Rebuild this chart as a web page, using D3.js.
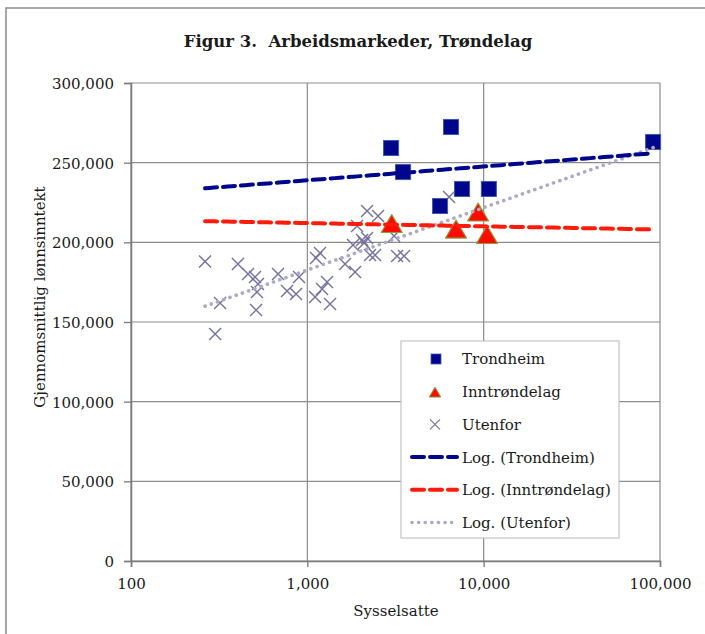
<!DOCTYPE html>
<html>
<head>
<meta charset="utf-8">
<script src="https://cdn.jsdelivr.net/npm/d3@7"></script>
<style>
  html, body { margin: 0; padding: 0; background: #fff; }
  svg { display: block; }
  text { font-family: "DejaVu Serif", serif; fill: #1a1a1a; }
</style>
</head>
<body>
<svg id="chart" width="705" height="634"></svg>
<script>
// Employment (sysselsatte) and average wage income per labour market
const trondheimX = [2985, 3490, 6530, 5660, 7540, 10700, 91400];
const trondheimY = [259200, 244100, 272400, 222800, 233500, 233500, 263000];

const inntrondelagX = [3010, 6970, 9300, 10450];
const inntrondelagY = [211200, 207700, 218400, 204300];

const utenforX = [263, 300, 320, 404, 461, 505, 525, 518, 512, 682, 767, 863, 897,
                  1106, 1120, 1180, 1293, 1212, 1345, 1636, 1865, 1816, 1914, 2181,
                  2518, 2043, 2181, 2268, 2421, 3103, 3227, 3536, 6365, 2097];
const utenforY = [188000, 142500, 161900, 186400, 180100, 178200, 173800, 168800, 157500,
                  180100, 169500, 167600, 178200, 165700, 190200, 193300, 175100, 170700,
                  161300, 186400, 181400, 198300, 210200, 219700, 216500, 201500, 202700,
                  192000, 192000, 204000, 191400, 191400, 228400, 199600];

const xTicks = [100, 1000, 10000, 100000];
const yTicks = [0, 50000, 100000, 150000, 200000, 250000, 300000];

const titleText = "Figur 3.  Arbeidsmarkeder, Trøndelag";
const xTitle = "Sysselsatte";
const yTitle = "Gjennomsnittlig lønnsinntekt";
const legendLabels = ["Trondheim", "Inntrøndelag", "Utenfor",
                      "Log. (Trondheim)", "Log. (Inntrøndelag)", "Log. (Utenfor)"];

const svg = d3.select("#chart");
const W = 705, H = 634;
const plot = { left: 131, right: 660, top: 83, bottom: 561 };

// outer frame
svg.append("rect").attr("x", 6).attr("y", 8).attr("width", W + 10).attr("height", H + 10)
  .attr("fill", "#fff").attr("stroke", "#8a8a8a").attr("stroke-width", 1.5);

const x = d3.scaleLog().domain([100, 100000]).range([plot.left, plot.right]);
const y = d3.scaleLinear().domain([0, 300000]).range([plot.bottom, plot.top]);

const fmt = d3.format(",");

// grid
const grid = svg.append("g");
grid.selectAll("line.h").data(yTicks).join("line")
  .attr("x1", plot.left).attr("x2", plot.right)
  .attr("y1", d => y(d)).attr("y2", d => y(d))
  .attr("stroke", "#8c8c8c").attr("stroke-width", 1.2);
grid.selectAll("line.v").data(xTicks).join("line")
  .attr("x1", d => x(d)).attr("x2", d => x(d))
  .attr("y1", plot.top).attr("y2", plot.bottom)
  .attr("stroke", "#8c8c8c").attr("stroke-width", 1.2);

// axes
const yAxis = d3.axisLeft(y).tickValues(yTicks).tickFormat(fmt).tickSize(7).tickPadding(10);
const xAxis = d3.axisBottom(x).tickValues(xTicks).tickFormat(fmt).tickSize(6).tickPadding(8);

const gy = svg.append("g").attr("transform", `translate(${plot.left},0)`).call(yAxis);
const gx = svg.append("g").attr("transform", `translate(0,${plot.bottom})`).call(xAxis);
[gx, gy].forEach(g => {
  g.select(".domain").attr("stroke", "#7a7a7a").attr("stroke-width", 1.5);
  g.selectAll(".tick line").attr("stroke", "#7a7a7a").attr("stroke-width", 1.3);
  g.selectAll(".tick text").attr("font-family", "DejaVu Serif").attr("font-size", 15).attr("fill", "#1a1a1a");
});
gy.selectAll(".tick text").attr("dy", "0.36em");
gx.selectAll(".tick text").attr("dy", "0.9em");

// titles
svg.append("text").attr("x", 358).attr("y", 47).attr("text-anchor", "middle")
  .attr("xml:space", "preserve").style("white-space", "pre")
  .attr("font-family", "DejaVu Serif Condensed").attr("font-weight", "bold").attr("font-size", 16.5)
  .text(titleText);
svg.append("text").attr("x", 396).attr("y", 616).attr("text-anchor", "middle")
  .attr("font-size", 15).text(xTitle);
svg.append("text").attr("transform", "translate(45,297) rotate(-90)").attr("text-anchor", "middle")
  .attr("font-size", 15).text(yTitle);

// markers
const marks = svg.append("g");
const crossPath = s => `M${-s},${-s}L${s},${s}M${-s},${s}L${s},${-s}`;
const triPath = s => `M0,${-s}L${s * 1.05},${s * 0.8}L${-s * 1.05},${s * 0.8}Z`;

marks.selectAll("path.ut").data(d3.zip(utenforX, utenforY)).join("path")
  .attr("transform", d => `translate(${x(d[0])},${y(d[1])})`)
  .attr("d", crossPath(6)).attr("fill", "none")
  .attr("stroke", "#7470a2").attr("stroke-width", 1.4);

marks.selectAll("rect.tr").data(d3.zip(trondheimX, trondheimY)).join("rect")
  .attr("x", d => x(d[0]) - 7.5).attr("y", d => y(d[1]) - 7.5)
  .attr("width", 15).attr("height", 15)
  .attr("fill", "#00068c").attr("stroke", "#3a5aa8").attr("stroke-width", 1);

marks.selectAll("path.in").data(d3.zip(inntrondelagX, inntrondelagY)).join("path")
  .attr("transform", d => `translate(${x(d[0])},${y(d[1])})`)
  .attr("d", triPath(10)).attr("fill", "#ff0a00")
  .attr("stroke", "#8aa040").attr("stroke-width", 1.2).attr("stroke-linejoin", "round");

// logarithmic trendlines: y = a + b ln(x), fitted per series
function logFit(xs, ys) {
  const lx = xs.map(Math.log);
  const mx = d3.mean(lx), my = d3.mean(ys);
  const b = d3.sum(lx, (v, i) => (v - mx) * (ys[i] - my)) / d3.sum(lx, v => (v - mx) ** 2);
  return { a: my - b * mx, b };
}
const allX = trondheimX.concat(inntrondelagX, utenforX);
const [xMin, xMax] = d3.extent(allX);
const samples = d3.range(0, 101).map(i => Math.exp(Math.log(xMin) + (Math.log(xMax) - Math.log(xMin)) * i / 100));
const trendLine = fit => d3.line().x(v => x(v)).y(v => y(fit.a + fit.b * Math.log(v)))(samples);

const trends = [
  { fit: logFit(utenforX, utenforY), color: "#aeaac6", dash: "0.1 6.5", cap: "round", w: 3.6 },
  { fit: logFit(inntrondelagX, inntrondelagY), color: "#ff1a0a", dash: "12 6", cap: "round", w: 4 },
  { fit: logFit(trondheimX, trondheimY), color: "#00068c", dash: "12 6", cap: "round", w: 4 }
];
svg.append("g").selectAll("path").data(trends).join("path")
  .attr("d", d => trendLine(d.fit)).attr("fill", "none")
  .attr("stroke", d => d.color).attr("stroke-width", d => d.w)
  .attr("stroke-dasharray", d => d.dash).attr("stroke-linecap", d => d.cap);

// legend
const lg = svg.append("g");
lg.append("rect").attr("x", 401).attr("y", 341).attr("width", 218).attr("height", 197)
  .attr("fill", "#fff").attr("stroke", "#c4c4c4").attr("stroke-width", 1.2);
const rowY = i => 359 + i * 32.7;
lg.selectAll("text").data(legendLabels).join("text")
  .attr("x", 462).attr("y", (d, i) => rowY(i)).attr("dy", "0.36em")
  .attr("font-size", 15).text(d => d);
lg.append("rect").attr("x", 431).attr("y", rowY(0) - 5).attr("width", 10).attr("height", 10)
  .attr("fill", "#00068c").attr("stroke", "#3a5aa8").attr("stroke-width", 0.8);
lg.append("path").attr("transform", `translate(435,${rowY(1) + 1})`).attr("d", triPath(5.5))
  .attr("fill", "#ff0a00").attr("stroke", "#8aa040").attr("stroke-width", 1);
lg.append("path").attr("transform", `translate(435,${rowY(2)})`).attr("d", crossPath(5))
  .attr("fill", "none").attr("stroke", "#7a7a8a").attr("stroke-width", 1.3);
[trends[2], trends[1], trends[0]].forEach((t, i) => {
  lg.append("line").attr("x1", 412).attr("x2", 457)
    .attr("y1", rowY(3 + i)).attr("y2", rowY(3 + i))
    .attr("stroke", t.color).attr("stroke-width", t.w)
    .attr("stroke-dasharray", t.dash).attr("stroke-linecap", t.cap);
});
</script>
</body>
</html>
